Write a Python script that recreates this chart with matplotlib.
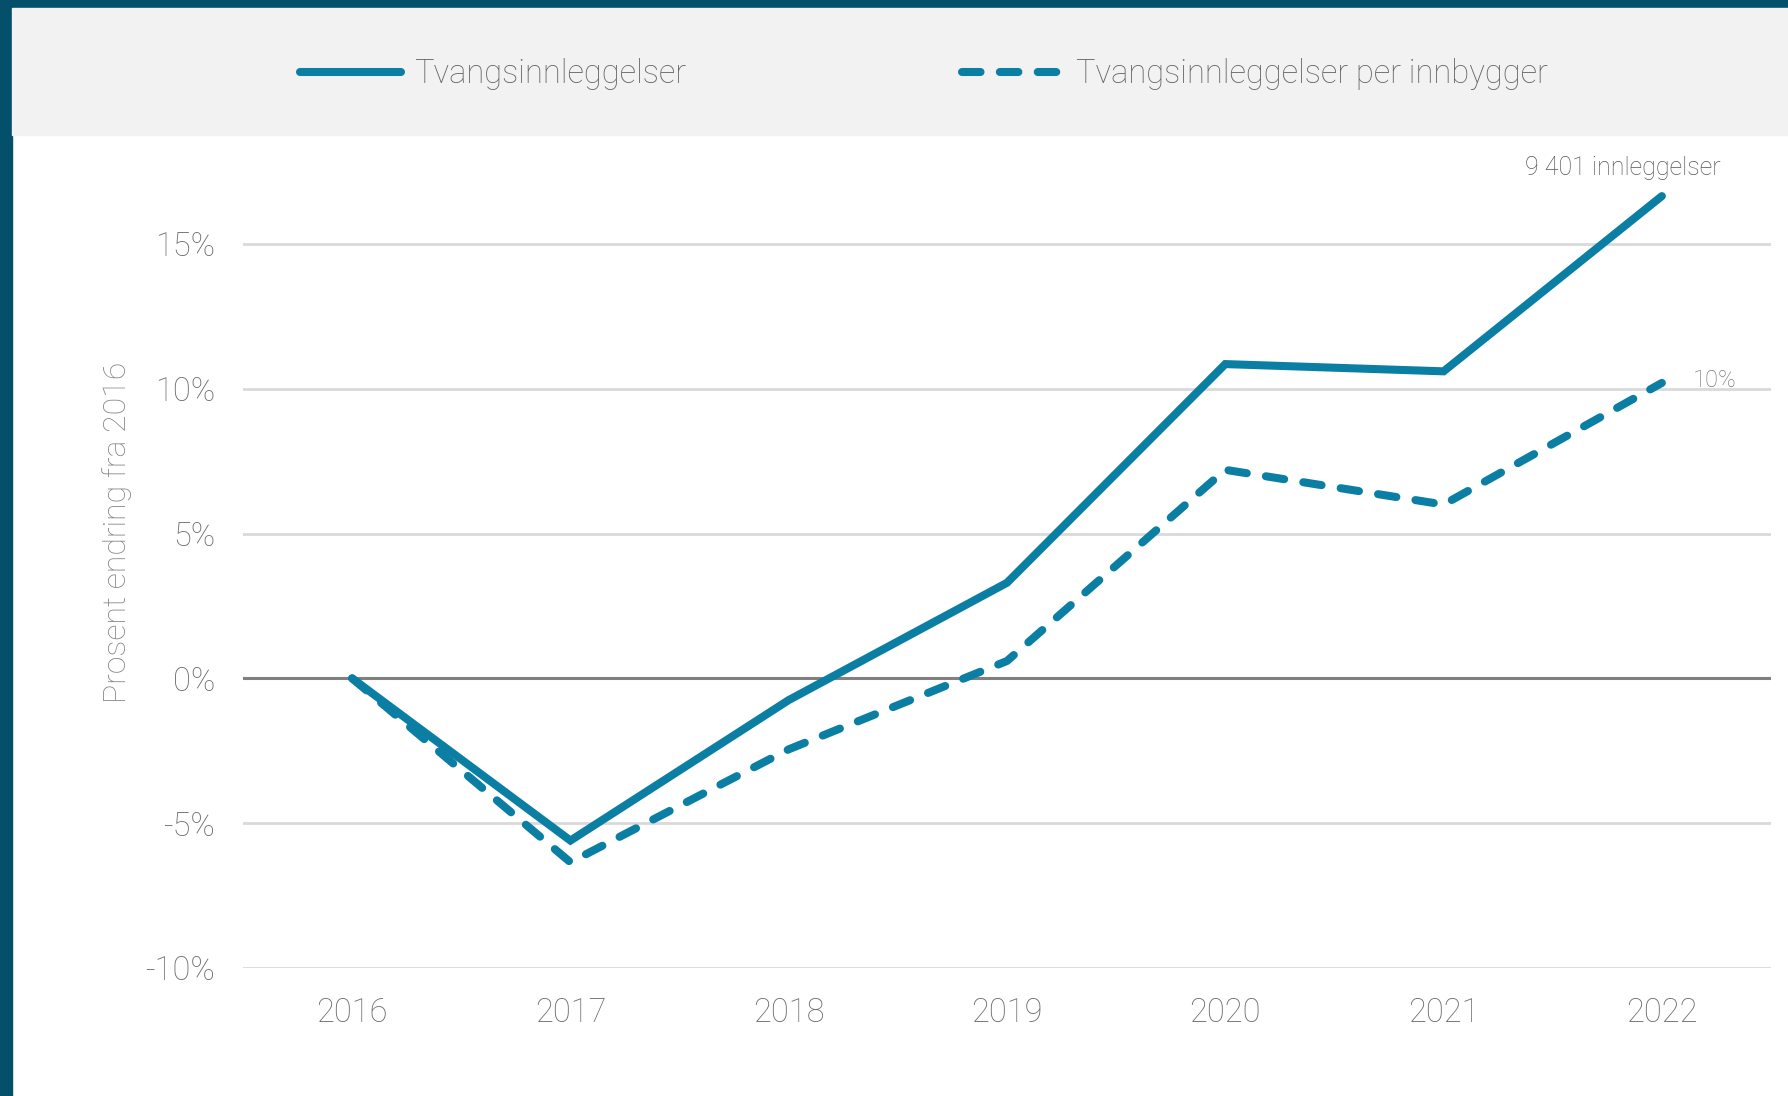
import matplotlib.pyplot as plt
from matplotlib.patches import Rectangle
from matplotlib.ticker import FuncFormatter

years = ['2016', '2017', '2018', '2019', '2020', '2021', '2022']
tvang = [0.0, -5.6, -0.75, 3.3, 10.85, 10.6, 16.65]
tvang_per_innb = [0.0, -6.35, -2.45, 0.6, 7.2, 6.0, 10.2]
yticks = [-10, -5, 0, 5, 10, 15]

blue = '#0a7fa3'
border = '#04506a'
grey_txt = '#6b6b6b'

plt.rcParams['font.family'] = ['Roboto', 'DejaVu Sans']
plt.rcParams['font.weight'] = 'light'

W, H = 1788, 1096
fig = plt.figure(figsize=(W / 100, H / 100), dpi=100)

# frame and legend band
fig.patches.append(Rectangle((0, 0), 12 / W, 1, transform=fig.transFigure,
                             color=border, zorder=0))
fig.patches.append(Rectangle((0, 1 - 8 / H), 1, 8 / H, transform=fig.transFigure,
                             color=border, zorder=0))
fig.patches.append(Rectangle((12 / W, 1 - 135 / H), 1, 127 / H,
                             transform=fig.transFigure, color='#f2f2f2', zorder=0))

ax = fig.add_axes([243 / W, 1 - 968 / H, (1771 - 243) / W, (968 - 157) / H])
ax.set_facecolor('none')

x = list(range(len(years)))
l1, = ax.plot(x, tvang, color=blue, lw=5.8, solid_capstyle='round',
              solid_joinstyle='miter', zorder=3)
l2, = ax.plot(x, tvang_per_innb, color=blue, lw=5.8, dashes=(2.3, 2.4),
              dash_capstyle='round', zorder=3)

ax.set_xlim(-0.5, 6.5)
ax.set_ylim(-10, 18)
ax.set_xticks(x)
ax.set_xticklabels(years)
ax.set_yticks(yticks)
ax.yaxis.set_major_formatter(FuncFormatter(lambda v, p: '%d%%' % v))
ax.tick_params(length=0, labelsize=23.5, labelcolor=grey_txt)
ax.tick_params(axis='y', pad=20)
ax.tick_params(axis='x', pad=21)
for s in ax.spines.values():
    s.set_visible(False)
for t in yticks:
    if t == 0:
        ax.axhline(t, color='#808080', lw=2.2, zorder=1)
    else:
        ax.axhline(t, color='#d9d9d9', lw=2.0, zorder=1)

ax.text(x[-1] - 0.18, tvang[-1] + 0.55, '9 401 innleggelser', ha='center', va='bottom',
        fontsize=18, color='#555555', clip_on=False)
ax.text(x[-1] + 0.14, tvang_per_innb[-1] + 0.1, '10%', ha='left', va='center',
        fontsize=17, color='#777777')

fig.text(117 / W, 1 - 532 / H, 'Prosent endring fra 2016', rotation=90,
         ha='center', va='center', fontsize=23, color='#858585')

legkw = dict(frameon=False, fontsize=23.5, handlelength=3.1, handletextpad=0.4,
             loc='center left', borderpad=0, borderaxespad=0, labelcolor='#666666')
fig.legend([l1], ['Tvangsinnleggelser'], bbox_to_anchor=(300 / W, 1 - 74 / H), **legkw)
fig.legend([l2], ['Tvangsinnleggelser per innbygger'],
           bbox_to_anchor=(962 / W, 1 - 74 / H), **legkw)

fig.savefig('out.png', dpi=100)
